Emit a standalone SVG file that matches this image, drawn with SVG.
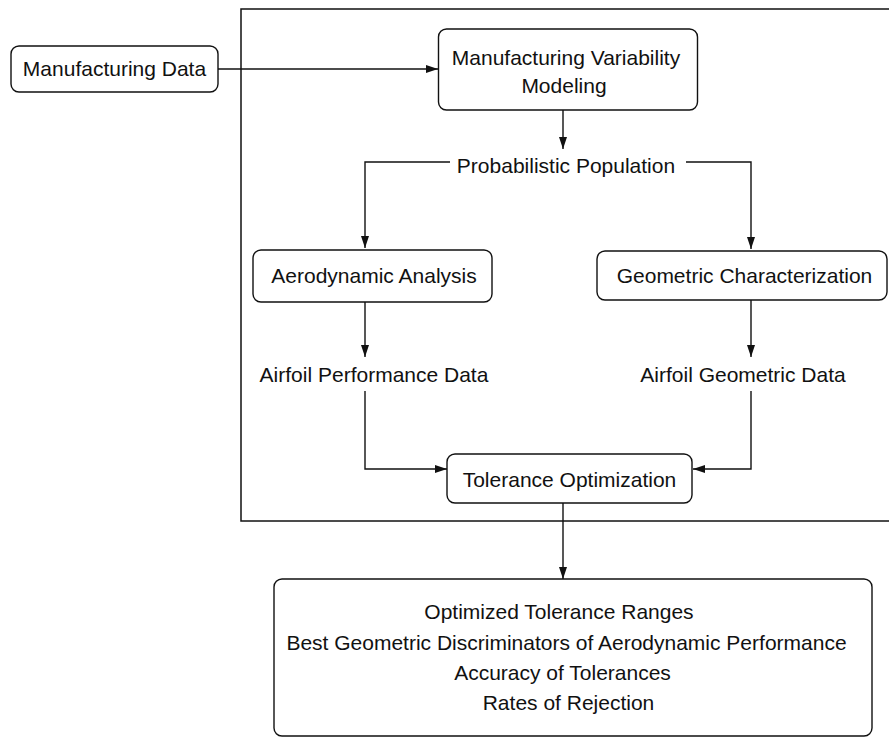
<svg xmlns="http://www.w3.org/2000/svg" width="889" height="738" viewBox="0 0 889 738">
  <style>
    .box { fill: #fff; stroke: #111; stroke-width: 1.4; }
    .frame { fill: none; stroke: #111; stroke-width: 1.5; }
    .lbl { font-family: "Liberation Sans", Arial, sans-serif; font-size: 21px; fill: #111; text-anchor: middle; }
    .edge { fill: none; stroke: #111; stroke-width: 1.4; }
    .arr { marker-end: url(#ah); }
  </style>
  <defs>
    <marker id="ah" viewBox="0 0 12 8" refX="12" refY="4" markerWidth="12" markerHeight="8" orient="auto" markerUnits="userSpaceOnUse">
      <path d="M0,0 L12,4 L0,8 Z" fill="#111"/>
    </marker>
  </defs>
  <rect width="889" height="738" fill="#fff"/>

  <!-- process boundary -->
  <rect class="frame" x="241" y="9" width="660" height="512"/>

  <g id="connectors">
    <path class="edge arr" d="M218,69 H438"/>
    <path class="edge arr" d="M563,110 V149"/>
    <path class="edge arr" d="M450,162 H365 V248"/>
    <path class="edge arr" d="M686,162 H751 V249"/>
    <path class="edge arr" d="M365,302 V357"/>
    <path class="edge arr" d="M751,300 V357"/>
    <path class="edge arr" d="M365,391 V469 H447"/>
    <path class="edge arr" d="M751,391 V469 H693"/>
    <path class="edge arr" d="M563,503 V579"/>
  </g>

  <g id="manufacturing-data">
    <rect class="box" x="11" y="46" width="207" height="46" rx="8"/>
    <text class="lbl" x="114.5" y="76">Manufacturing Data</text>
  </g>

  <g id="variability-modeling">
    <rect class="box" x="438.5" y="29" width="259" height="81" rx="8"/>
    <text class="lbl" x="566" y="65">Manufacturing Variability</text>
    <text class="lbl" x="564" y="93">Modeling</text>
  </g>

  <g id="probabilistic-population">
    <text class="lbl" x="566" y="173">Probabilistic Population</text>
  </g>

  <g id="aerodynamic-analysis">
    <rect class="box" x="253" y="250" width="239" height="52" rx="8"/>
    <text class="lbl" x="374" y="283">Aerodynamic Analysis</text>
  </g>

  <g id="geometric-characterization">
    <rect class="box" x="597" y="251" width="290" height="49" rx="8"/>
    <text class="lbl" x="744.5" y="283">Geometric Characterization</text>
  </g>

  <g id="performance-data">
    <text class="lbl" x="374" y="382">Airfoil Performance Data</text>
  </g>

  <g id="geometric-data">
    <text class="lbl" x="743" y="382">Airfoil Geometric Data</text>
  </g>

  <g id="tolerance-optimization">
    <rect class="box" x="447" y="454" width="245" height="49" rx="8"/>
    <text class="lbl" x="569.5" y="487">Tolerance Optimization</text>
  </g>

  <g id="results">
    <rect class="box" x="274" y="579" width="598" height="157" rx="8"/>
    <text class="lbl" x="559" y="619">Optimized Tolerance Ranges</text>
    <text class="lbl" x="566.5" y="650">Best Geometric Discriminators of Aerodynamic Performance</text>
    <text class="lbl" x="562.5" y="680">Accuracy of Tolerances</text>
    <text class="lbl" x="568.5" y="710">Rates of Rejection</text>
  </g>
</svg>
